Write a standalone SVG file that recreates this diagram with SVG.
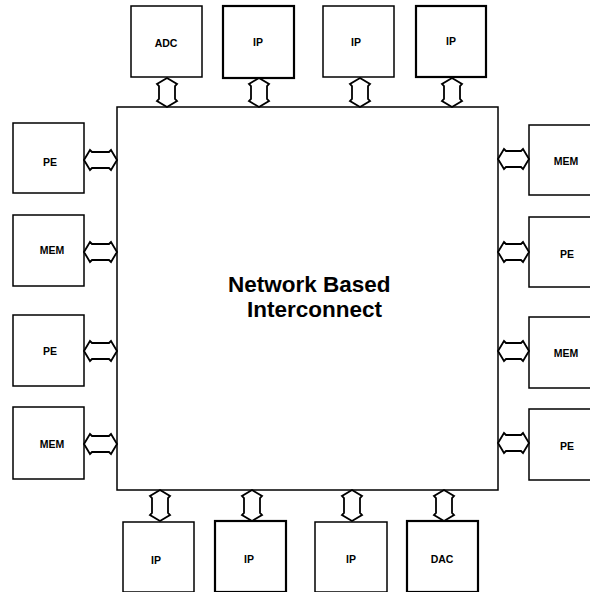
<svg xmlns="http://www.w3.org/2000/svg" width="590" height="592" viewBox="0 0 590 592">
<style>
.box{fill:#fff;stroke:#000;stroke-width:1.5}
.thick{stroke-width:2.2}
.lbl{font-family:"Liberation Sans",Arial,sans-serif;font-size:10.5px;font-weight:bold;fill:#000;text-anchor:middle}
.title{font-family:"Liberation Sans",Arial,sans-serif;font-size:22.5px;font-weight:bold;fill:#000}
.arr{fill:#fff;stroke:#000;stroke-width:1.8;stroke-linejoin:miter}
</style>
<rect width="590" height="592" fill="#fff"/>
<g id="interconnect">
<rect class="box" x="117" y="107" width="381" height="383" stroke-width="2"/>
<text class="title" x="228" y="292">Network Based</text>
<text class="title" x="247" y="317">Interconnect</text>
</g>
<g id="top-adc"><rect class="box" x="131" y="6" width="71" height="71"/><text class="lbl" x="166" y="47">ADC</text></g>
<g id="top-ip1"><rect class="box thick" x="223" y="6" width="71" height="72"/><text class="lbl" x="258" y="46">IP</text></g>
<g id="top-ip2"><rect class="box" x="323" y="6" width="71" height="71"/><text class="lbl" x="356" y="46">IP</text></g>
<g id="top-ip3"><rect class="box thick" x="416" y="6" width="70" height="71"/><text class="lbl" x="451" y="45">IP</text></g>
<g id="left-pe1"><rect class="box" x="13" y="123" width="71" height="70"/><text class="lbl" x="50" y="166">PE</text></g>
<g id="left-mem1"><rect class="box" x="13" y="215" width="71" height="71"/><text class="lbl" x="52" y="254">MEM</text></g>
<g id="left-pe2"><rect class="box" x="13" y="315" width="71" height="71"/><text class="lbl" x="50" y="355">PE</text></g>
<g id="left-mem2"><rect class="box" x="13" y="407" width="71" height="72"/><text class="lbl" x="52" y="448">MEM</text></g>
<g id="right-mem1"><rect class="box" x="529" y="125" width="72" height="70"/><text class="lbl" x="566" y="165">MEM</text></g>
<g id="right-pe1"><rect class="box" x="529" y="217" width="72" height="70"/><text class="lbl" x="567" y="258">PE</text></g>
<g id="right-mem2"><rect class="box" x="529" y="317" width="72" height="71"/><text class="lbl" x="566" y="357">MEM</text></g>
<g id="right-pe2"><rect class="box" x="529" y="409" width="72" height="71"/><text class="lbl" x="567" y="450">PE</text></g>
<g id="bottom-ip1"><rect class="box" x="123" y="522" width="71" height="70"/><text class="lbl" x="156" y="564">IP</text></g>
<g id="bottom-ip2"><rect class="box thick" x="215" y="521" width="71" height="71"/><text class="lbl" x="249" y="563">IP</text></g>
<g id="bottom-ip3"><rect class="box" x="315" y="522" width="72" height="70"/><text class="lbl" x="351" y="563">IP</text></g>
<g id="bottom-dac"><rect class="box thick" x="407" y="521" width="71" height="71"/><text class="lbl" x="442" y="563">DAC</text></g>
<g id="connectors">
<polygon class="arr" points="167,78 177,84 175,86 175,99 177,101 167,107 157,101 159,99 159,86 157,84"/>
<polygon class="arr" points="259,78 269,84 267,86 267,99 269,101 259,107 249,101 251,99 251,86 249,84"/>
<polygon class="arr" points="360,78 370,84 368,86 368,99 370,101 360,107 350,101 352,99 352,86 350,84"/>
<polygon class="arr" points="452,78 462,84 460,86 460,99 462,101 452,107 442,101 444,99 444,86 442,84"/>
<polygon class="arr" points="160,490 170,496 168,498 168,513 170,515 160,521 150,515 152,513 152,498 150,496"/>
<polygon class="arr" points="252,490 262,496 260,498 260,513 262,515 252,521 242,515 244,513 244,498 242,496"/>
<polygon class="arr" points="352,490 362,496 360,498 360,513 362,515 352,521 342,515 344,513 344,498 342,496"/>
<polygon class="arr" points="444,490 454,496 452,498 452,513 454,515 444,521 434,515 436,513 436,498 434,496"/>
<polygon class="arr" points="84,160 90,150 92,152 109,152 111,150 117,160 111,170 109,168 92,168 90,170"/>
<polygon class="arr" points="84,252 90,242 92,244 109,244 111,242 117,252 111,262 109,260 92,260 90,262"/>
<polygon class="arr" points="84,351 90,341 92,343 109,343 111,341 117,351 111,361 109,359 92,359 90,361"/>
<polygon class="arr" points="84,444 90,434 92,436 109,436 111,434 117,444 111,454 109,452 92,452 90,454"/>
<polygon class="arr" points="498,159 504,149 506,151 521,151 523,149 529,159 523,169 521,167 506,167 504,169"/>
<polygon class="arr" points="498,252 504,242 506,244 521,244 523,242 529,252 523,262 521,260 506,260 504,262"/>
<polygon class="arr" points="498,351 504,341 506,343 521,343 523,341 529,351 523,361 521,359 506,359 504,361"/>
<polygon class="arr" points="498,443 504,433 506,435 521,435 523,433 529,443 523,453 521,451 506,451 504,453"/>
</g>
</svg>
